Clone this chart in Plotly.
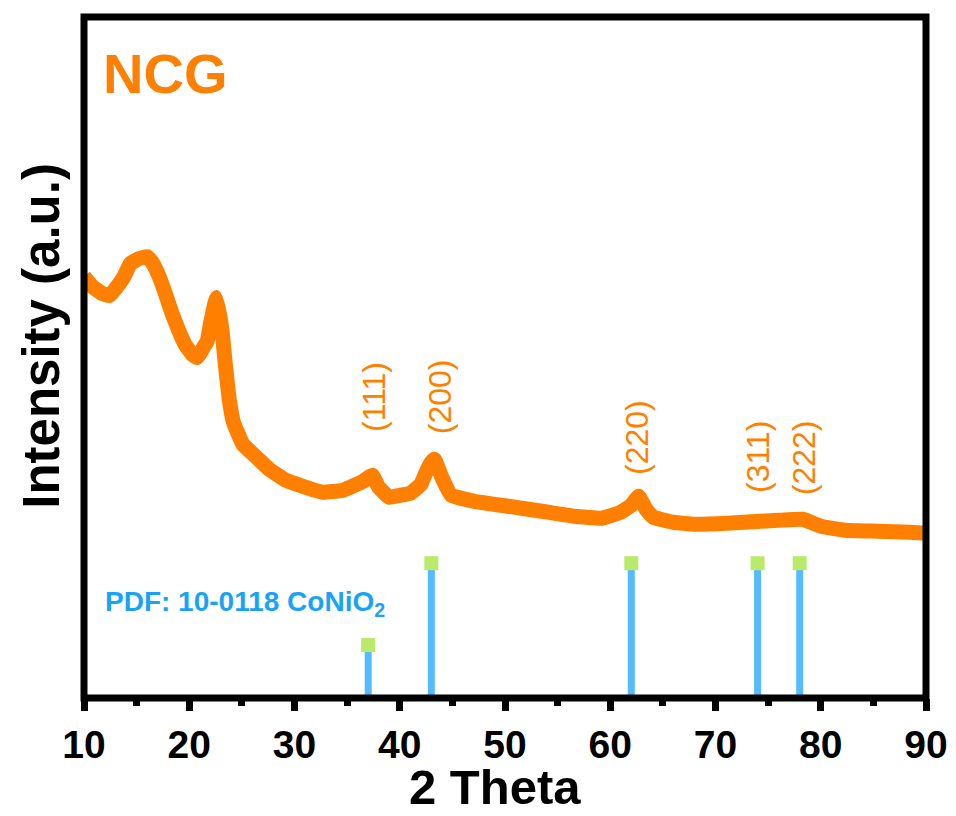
import plotly.graph_objects as go

# XRD pattern (2 theta, intensity a.u.)
two_theta = [10.0, 10.8, 11.75, 12.4, 13.0, 13.8, 14.4, 15.2, 16.0, 16.5, 17.1, 17.7, 18.4, 19.0, 19.6,
             20.3, 20.75, 21.4, 21.7, 22.0, 22.45, 22.6, 23.1, 23.4, 23.8, 24.2, 25.1, 26.4, 27.6,
             29.2, 30.8, 32.7, 34.6, 36.5, 37.4, 38.0, 39.0, 40.0, 41.0, 42.0, 42.5, 43.0, 43.3,
             44.0, 44.9, 47.1, 50.3, 53.5, 56.6, 59.2, 61.0, 62.0, 62.7, 63.4, 64.1, 66.0, 68.0,
             71.1, 74.3, 76.0, 78.3, 80.0, 82.3, 85.4, 88.5, 90.0]
intensity = [422, 412, 405, 403, 410, 422, 435, 440, 442, 436, 423, 406, 384, 368, 354,
             344, 341, 352, 357, 374, 396, 401, 369, 337, 299, 276, 254, 241, 229,
             218, 212, 206, 208, 217, 223, 211, 201, 203, 205, 214, 226, 236, 239,
             221, 203, 197, 192, 187, 182, 180, 186, 193, 202, 189, 181, 176, 174,
             175, 177, 178, 179, 172, 168, 167, 166, 165]

# Reference pattern PDF 10-0118 CoNiO2 (stick positions and heights)
ref_theta = [37.0, 43.0, 62.0, 74.0, 78.0]
ref_height = [53, 135, 135, 135, 135]

# Peak labels
peak_labels = ["(111)", "(200)", "(220)", "(311)", "(222)"]
label_theta = [37.6, 43.9, 62.6, 74.1, 78.4]
label_y = [302, 302, 261, 241, 241]

ORANGE = "#FF8000"
BLUE = "#55BBFF"
GREEN = "#B9EA6A"
FONT = "Liberation Sans, Arial, sans-serif"

fig = go.Figure()

fig.add_trace(go.Scatter(x=two_theta, y=intensity, mode="lines",
                         line=dict(color=ORANGE, width=15, shape="spline", smoothing=0.3),
                         hoverinfo="skip"))

stick_x, stick_y = [], []
for t, h in zip(ref_theta, ref_height):
    stick_x += [t, t, None]
    stick_y += [0, h, None]
fig.add_trace(go.Scatter(x=stick_x, y=stick_y, mode="lines",
                         line=dict(color=BLUE, width=7), hoverinfo="skip"))
fig.add_trace(go.Scatter(x=ref_theta, y=ref_height, mode="markers",
                         marker=dict(symbol="square", size=14, color=GREEN, line=dict(width=0)),
                         hoverinfo="skip"))

annotations = []
for lab, t, yv in zip(peak_labels, label_theta, label_y):
    annotations.append(dict(x=t, y=yv, xref="x", yref="y", text=lab, textangle=-90,
                            xanchor="center", yanchor="middle",
                            showarrow=False, font=dict(family=FONT, size=32, color=ORANGE)))

annotations.append(dict(x=11.6, y=625, xref="x", yref="y", text="<b>NCG</b>",
                        xanchor="left", yanchor="middle",
                        showarrow=False, font=dict(family=FONT, size=56, color=ORANGE)))
annotations.append(dict(x=11.85, y=95, xref="x", yref="y", text="<b>PDF: 10-0118 CoNiO<sub>2</sub></b>",
                        xanchor="left", yanchor="middle",
                        showarrow=False, font=dict(family=FONT, size=28, color="#1AA3F5")))
annotations.append(dict(x=49.07, y=-0.131, xref="x", yref="paper", text="<b>2 Theta</b>",
                        xanchor="center", yanchor="middle",
                        showarrow=False, font=dict(family=FONT, size=49, color="black")))
annotations.append(dict(x=-0.0514, y=0.5315, xref="paper", yref="paper", text="<b>Intensity (a.u.)</b>",
                        xanchor="center", yanchor="middle",
                        textangle=-90, showarrow=False, font=dict(family=FONT, size=51, color="black")))

fig.update_layout(
    width=948, height=808,
    margin=dict(l=75.5, r=27, t=8.5, b=117.5),
    paper_bgcolor="white", plot_bgcolor="white",
    showlegend=False,
    annotations=annotations,
    shapes=[dict(type="rect", xref="paper", yref="paper", x0=0, x1=1, y0=0, y1=1,
                 line=dict(color="black", width=7), layer="above")],
)
fig.update_xaxes(range=[10, 90], showgrid=False, zeroline=False, showline=False,
                 tickmode="array", tickvals=[10, 20, 30, 40, 50, 60, 70, 80, 90],
                 ticks="outside", ticklen=12, tickwidth=7, tickcolor="black",
                 tickfont=dict(family=FONT, size=39, color="black", weight="bold"),
                 minor=dict(tickvals=[15, 25, 35, 45, 55, 65, 75, 85], ticks="outside",
                            ticklen=7, tickwidth=7, tickcolor="black"))
fig.update_yaxes(range=[0, 682], showgrid=False, zeroline=False, showline=False,
                 showticklabels=False, ticks="")

fig.write_html("out.html")
